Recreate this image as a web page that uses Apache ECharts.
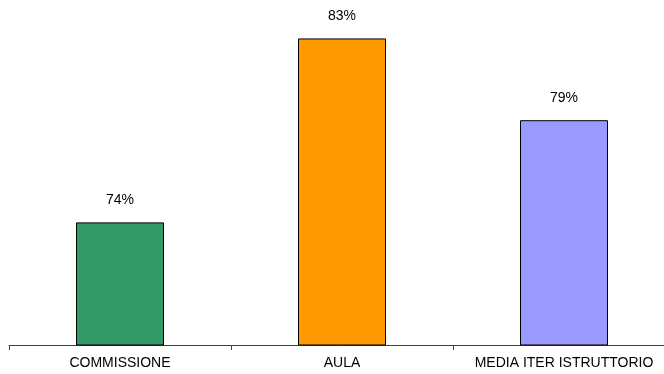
<!DOCTYPE html>
<html>
<head>
<meta charset="utf-8">
<script src="https://cdn.jsdelivr.net/npm/echarts@6/dist/echarts.min.js"></script>
<style>html,body{margin:0;padding:0;background:#fff}#c{width:664px;height:374px}</style>
</head>
<body>
<div id="c"></div>
<script>
var categories = ['COMMISSIONE', 'AULA', 'MEDIA ITER ISTRUTTORIO'];
var values = [0.74, 0.83, 0.79];
var colors = ['#339966', '#FF9900', '#9999FF'];

var chart = echarts.init(document.getElementById('c'), null, {renderer: 'canvas'});
chart.setOption({
  animation: false,
  backgroundColor: '#fff',
  grid: {left: 9, width: 666, top: 18, height: 327, containLabel: false, outerBoundsMode: 'none'},
  xAxis: {
    type: 'category',
    data: categories,
    axisLine: {show: true, lineStyle: {color: '#404040', width: 1}},
    axisTick: {show: true, length: 5, inside: false, alignWithLabel: false, lineStyle: {color: '#404040'}},
    axisLabel: {color: '#000', fontFamily: 'Liberation Sans, Arial', fontSize: 14, margin: 11, interval: 0}
  },
  yAxis: {
    type: 'value',
    min: 0.68,
    max: 0.84,
    show: false,
    splitLine: {show: false}
  },
  series: [{
    type: 'bar',
    barWidth: 88,
    data: values.map(function (v, i) {
      return {value: v, itemStyle: {color: colors[i], borderColor: '#000', borderWidth: 1}};
    }),
    label: {
      show: true,
      position: 'top',
      distance: 15,
      color: '#000',
      fontFamily: 'Liberation Sans, Arial',
      fontSize: 14,
      formatter: function (p) { return Math.round(p.value * 100) + '%'; }
    }
  }]
});
</script>
</body>
</html>
